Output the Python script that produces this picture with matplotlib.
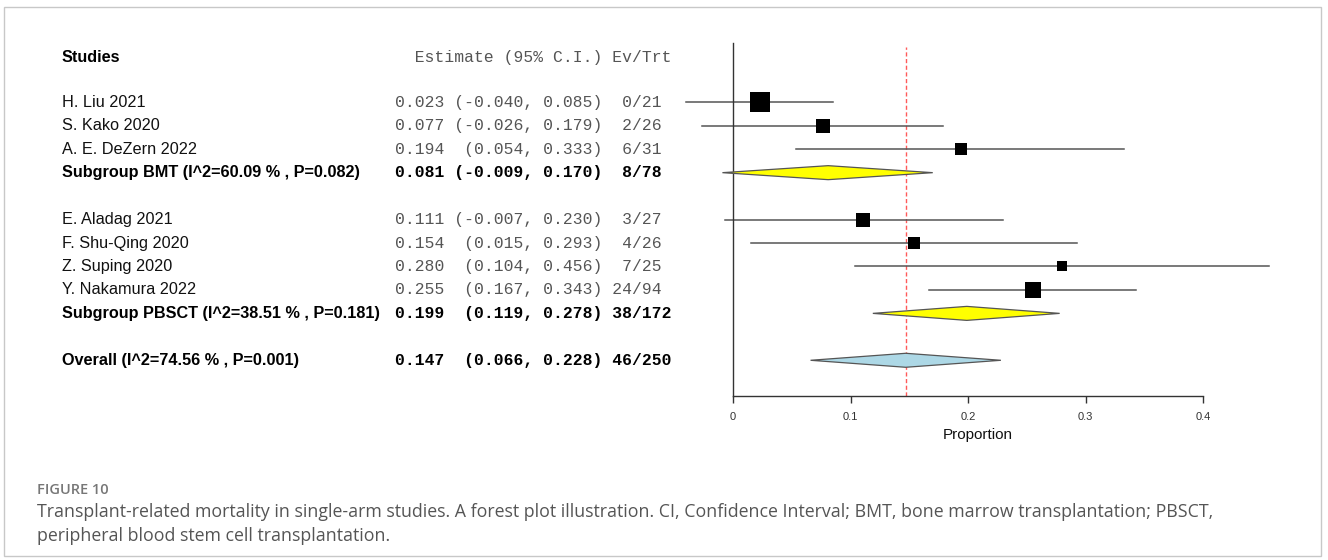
import numpy as np
import matplotlib.pyplot as plt
from matplotlib.patches import Polygon, Rectangle
from matplotlib.transforms import blended_transform_factory

# single-arm studies: proportion of transplant-related deaths
studies = ["H. Liu 2021", "S. Kako 2020", "A. E. DeZern 2022",
           "E. Aladag 2021", "F. Shu-Qing 2020", "Z. Suping 2020",
           "Y. Nakamura 2022"]
est = [0.023, 0.077, 0.194, 0.111, 0.154, 0.280, 0.255]
lower = [-0.040, -0.026, 0.054, -0.007, 0.015, 0.104, 0.167]
upper = [0.085, 0.179, 0.333, 0.230, 0.293, 0.456, 0.343]
events = [0, 2, 6, 3, 4, 7, 24]
totals = [21, 26, 31, 27, 26, 25, 94]

# pooled estimates (two subgroups + overall)
pooled_labels = ["Subgroup BMT (I^2=60.09 % , P=0.082)",
                 "Subgroup PBSCT (I^2=38.51 % , P=0.181)",
                 "Overall (I^2=74.56 % , P=0.001)"]
pooled_est = [0.081, 0.199, 0.147]
pooled_lower = [-0.009, 0.119, 0.066]
pooled_upper = [0.170, 0.278, 0.228]
pooled_events = [8, 38, 46]
pooled_totals = [78, 172, 250]

xticks = [0, 0.1, 0.2, 0.3, 0.4]
xtick_labels = ["0", "0.1", "0.2", "0.3", "0.4"]

caption_head = "FIGURE 10"
caption_lines = [
    "Transplant-related mortality in single-arm studies. A forest plot illustration. "
    "CI, Confidence Interval; BMT, bone marrow transplantation; PBSCT,",
    "peripheral blood stem cell transplantation.",
]

# row index of each line in the table
study_rows = [1, 2, 3, 6, 7, 8, 9]
pooled_rows = [4, 10, 12]
header_row = -0.93

W, H = 1328, 560
SANS = "Liberation Sans"
MONO = "Liberation Mono"
FS = 11.7
MFS = 11.75


def ci_text(e, lo, hi):
    lo_s = "(%.3f," % lo
    return "%.3f %8s %.3f)" % (e, lo_s, hi)


def ev_text(ev, n):
    return ("%d/%d" % (ev, n)).center(6)


fig = plt.figure(figsize=(W / 100, H / 100), dpi=100)
ax = fig.add_axes([733 / W, 1 - 395.7 / H, 470 / W, 352.4 / H])
ax.set_xlim(0, 0.4)
ax.set_ylim(13.51, -1.516)

# axis styling: only the left line and the bottom scale
for s in ["top", "right"]:
    ax.spines[s].set_visible(False)
ax.spines["bottom"].set_bounds(0, 0.4)
for s in ["left", "bottom"]:
    ax.spines[s].set_color("#333333")
    ax.spines[s].set_linewidth(1.0)
ax.set_yticks([])
ax.set_xticks(xticks)
ax.set_xticklabels(xtick_labels, fontsize=8, family=SANS, color="#333333")
ax.tick_params(axis="x", length=5, width=1, color="#333333", pad=7)
ax.set_xlabel("Proportion", fontsize=11, family=SANS, color="#111111")
ax.xaxis.set_label_coords((978 - 733) / 470, -(435 - 395.7) / 352.4)
ax.xaxis.label.set_va("center")

# reference line at the overall estimate
ax.axvline(pooled_est[-1], ymin=0, ymax=0.99, color="#ff5a5a", lw=1.0,
           ls=(0, (3, 1.8)), zorder=1)

# individual studies: CI line + square sized by precision
for r, e, lo, hi in zip(study_rows, est, lower, upper):
    ax.plot([lo, hi], [r, r], color="#555555", lw=1.1, clip_on=False, zorder=2)
    side = 5.75 * (1.0 / (hi - lo)) ** 0.6
    ax.plot([e], [r], marker="s", ms=side * 0.72, mew=0, color="black",
            clip_on=False, zorder=3)

# pooled diamonds
colors = ["#ffff00", "#ffff00", "#add8e6"]
half = 7 / 23.45
for r, e, lo, hi, c in zip(pooled_rows, pooled_est, pooled_lower,
                           pooled_upper, colors):
    d = Polygon([(lo, r), (e, r - half), (hi, r), (e, r + half)],
                closed=True, facecolor=c, edgecolor="#555555", lw=0.9,
                clip_on=False, zorder=3)
    ax.add_patch(d)

# text columns
tr = blended_transform_factory(fig.transFigure, ax.transData)
x_name = 62 / W
x_num = 395 / W

ax.text(x_name, header_row, "Studies", transform=tr, family=SANS,
        fontsize=FS, fontweight="bold", va="center", ha="left")
ax.text(x_num, header_row, "  Estimate (95% C.I.) Ev/Trt", transform=tr,
        family=MONO, fontsize=MFS, color="#555555", va="center", ha="left")

for r, name, e, lo, hi, ev, n in zip(study_rows, studies, est, lower, upper,
                                     events, totals):
    ax.text(x_name, r, name, transform=tr, family=SANS, fontsize=FS,
            color="#111111", va="center", ha="left")
    ax.text(x_num, r, ci_text(e, lo, hi) + " " + ev_text(ev, n),
            transform=tr, family=MONO, fontsize=MFS, color="#555555",
            va="center", ha="left")

for r, name, e, lo, hi, ev, n in zip(pooled_rows, pooled_labels, pooled_est,
                                     pooled_lower, pooled_upper,
                                     pooled_events, pooled_totals):
    ax.text(x_name, r, name, transform=tr, family=SANS, fontsize=FS,
            fontweight="bold", va="center", ha="left")
    ax.text(x_num, r, ci_text(e, lo, hi) + " " + ev_text(ev, n),
            transform=tr, family=MONO, fontsize=MFS, fontweight="bold",
            color="black", va="center", ha="left")

# caption
fig.text(37 / W, 1 - 490 / H, caption_head, family="Open Sans",
         fontsize=10.5, fontweight="semibold", color="#777777", va="center")
for i, line in enumerate(caption_lines):
    fig.text(37 / W, 1 - (512 + 24 * i) / H, line, family="Open Sans",
             fontsize=12.8, color="#555555", va="center")

# thin frame round the whole panel
fig.patches.append(Rectangle((4 / W, 1 - 556 / H), 1317 / W, 549 / H,
                             transform=fig.transFigure, fill=False,
                             edgecolor="#c8c8c8", lw=1.0))

fig.savefig("out.png", dpi=100)
